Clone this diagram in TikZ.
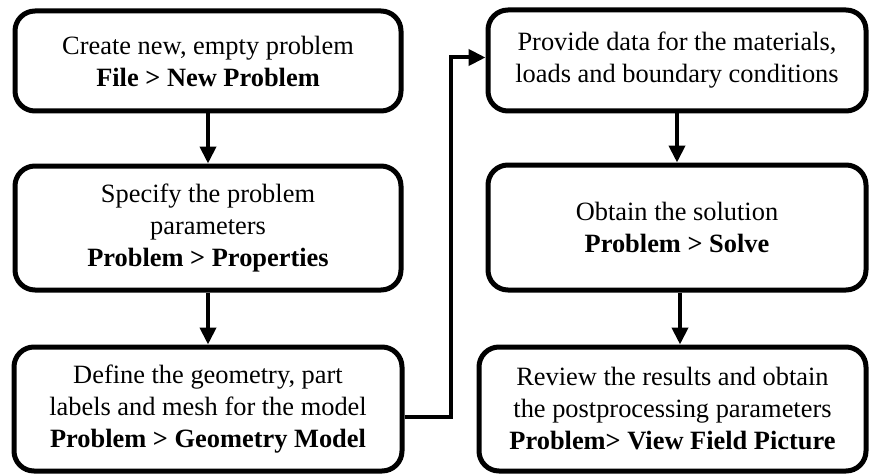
\documentclass[tikz,border=0pt]{standalone}
\usepackage{fontspec}
\setmainfont{Liberation Serif}
\usepackage{xcolor}
\usepackage{tikz}
\usetikzlibrary{arrows.meta}

\tikzset{
  stepbox/.style={draw, line width=5pt, rounded corners=20pt, align=center,
    inner sep=0pt, font=\fontsize{26.4}{32}\selectfont},
  arr/.style={line width=4pt, -{Triangle[length=17pt,width=16pt]}}
}

\begin{document}
\begin{tikzpicture}[x=1pt,y=1pt]
            \useasboundingbox (0,0) rectangle (870,475);
            %左边一列的三个步骤
            \node[stepbox, minimum width=386pt, minimum height=100pt] (create) at (208,414)
                {Create new, empty problem\\\textbf{File > New Problem}};
            \node[stepbox, minimum width=386pt, minimum height=124pt] (specify) at (208,247)
                {Specify the problem\\parameters\\\textbf{Problem > Properties}};
            \node[stepbox, minimum width=388pt, minimum height=124pt] (define) at (208,66)
                {Define the geometry, part\\labels and mesh for the model\\\textbf{Problem > Geometry Model}};
            %右边一列的三个步骤
            \node[stepbox, minimum width=378pt, minimum height=101pt] (provide) at (677,414.5)
                {Provide data for the materials,\\loads and boundary conditions};
            \node[stepbox, minimum width=378pt, minimum height=125pt] (obtain) at (677,247.5)
                {Obtain the solution\\\textbf{Problem > Solve}};
            \node[stepbox, minimum width=387pt, minimum height=124pt] (review) at (672.5,66)
                {Review the results and obtain\\the postprocessing parameters\\\textbf{Problem> View Field Picture}};
            %同一列中的竖直箭头
            \foreach \a/\b in {create/specify, specify/define, provide/obtain}{\draw[arr] (\a.south) -- (\b.north);}
            \draw[arr] ([xshift=3pt]obtain.south) -- ([xshift=3pt]obtain.south |- review.north);
            %从左列底部到右列顶部的连线
            \draw[arr] ([yshift=-8pt]define.east) -- ++(46,0) |- ([yshift=3pt]provide.west);
        \end{tikzpicture}
\end{document}
